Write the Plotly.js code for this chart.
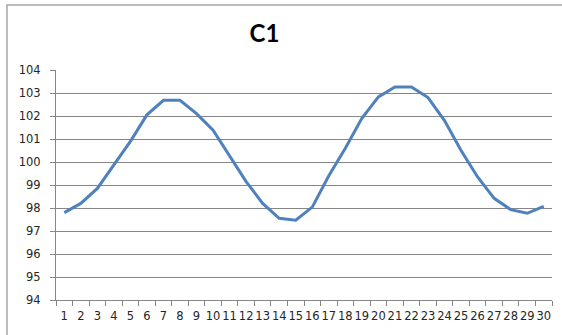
<!DOCTYPE html>
<html>
<head>
<meta charset="utf-8">
<script src="https://cdn.plot.ly/plotly-3.0.1.min.js"></script>
<style>
  html, body { margin: 0; padding: 0; background: #fff; }
  #chart { width: 562px; height: 335px; }
</style>
</head>
<body>
<div id="chart"></div>
<script>
const categories = ['1','2','3','4','5','6','7','8','9','10','11','12','13','14','15','16','17','18','19','20','21','22','23','24','25','26','27','28','29','30'];
const values = [97.8, 98.2, 98.85, 99.85, 100.9, 102.05, 102.68, 102.68, 102.1, 101.38, 100.25, 99.15, 98.2, 97.55, 97.47, 98.04, 99.4, 100.6, 101.9, 102.83, 103.26, 103.26, 102.8, 101.8, 100.5, 99.35, 98.42, 97.93, 97.77, 98.07];
const yTicks = [94, 95, 96, 97, 98, 99, 100, 101, 102, 103, 104];
const chartTitle = 'C1';

const tickFont = { family: '"DejaVu Sans", sans-serif', size: 11.5, color: '#262626' };

const trace = {
  x: categories,
  y: values,
  type: 'scatter',
  mode: 'lines',
  line: { color: '#4F81BD', width: 3 },
  hoverinfo: 'skip'
};

const layout = {
  width: 562,
  height: 335,
  margin: { l: 56, r: 10, t: 70, b: 35, pad: 0 },
  paper_bgcolor: '#ffffff',
  plot_bgcolor: '#ffffff',
  showlegend: false,
  title: {
    text: '<b>' + chartTitle + '</b>',
    font: { family: 'Lato, "Liberation Sans", sans-serif', size: 24, color: '#000' },
    xref: 'container', x: 264.5 / 562, xanchor: 'center',
    yref: 'container', y: 1 - 34 / 335, yanchor: 'middle'
  },
  xaxis: {
    type: 'category',
    categoryorder: 'array',
    categoryarray: categories,
    range: [-0.5, categories.length - 0.5],
    tickmode: 'array',
    tickvals: categories,
    ticktext: categories,
    tickangle: 0,
    tickson: 'boundaries',
    ticks: 'outside',
    ticklen: 5,
    tickcolor: '#868686',
    ticklabelstandoff: 5,
    showline: true,
    linecolor: '#868686',
    linewidth: 1,
    showgrid: false,
    zeroline: false,
    tickfont: tickFont,
    fixedrange: true
  },
  yaxis: {
    range: [94, 104],
    tickmode: 'array',
    tickvals: yTicks,
    ticktext: yTicks.map(String),
    ticks: 'outside',
    ticklen: 5,
    tickcolor: '#868686',
    ticklabelstandoff: 7,
    showline: true,
    linecolor: '#868686',
    linewidth: 1,
    showgrid: true,
    gridcolor: '#868686',
    gridwidth: 1,
    zeroline: false,
    tickfont: tickFont,
    fixedrange: true
  },
  shapes: [{
    type: 'rect',
    xref: 'paper', yref: 'paper',
    x0: (7 - 56) / 496, x1: (600 - 56) / 496,
    y0: (300 - 360) / 230, y1: (300 - 5) / 230,
    line: { color: '#a6a6a6', width: 1.5 },
    fillcolor: 'rgba(0,0,0,0)',
    layer: 'below'
  }]
};

Plotly.newPlot('chart', [trace], layout, { displayModeBar: false, staticPlot: true });
</script>
</body>
</html>
